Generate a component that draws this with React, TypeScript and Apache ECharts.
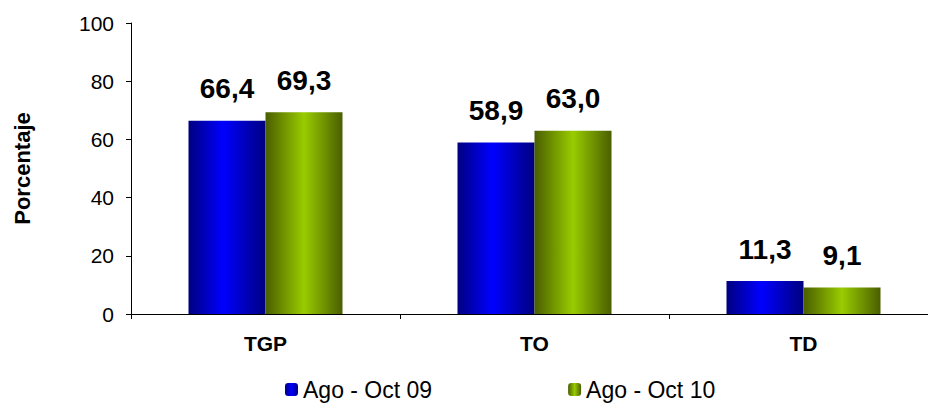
import React, { useEffect, useRef } from "react";
import * as echarts from "echarts";

const categories = ["TGP", "TO", "TD"];
const seriesNames = ["Ago - Oct 09", "Ago - Oct 10"];
const values09 = [66.4, 58.9, 11.3];
const values10 = [69.3, 63.0, 9.1];
const yTicks = { min: 0, max: 100, interval: 20 };

const font = "Arial, 'Liberation Sans', sans-serif";

function grad(edge: string, mid: string, pos: number) {
  return new echarts.graphic.LinearGradient(0, 0, 1, 0, [
    { offset: 0, color: edge },
    { offset: pos, color: mid },
    { offset: 1, color: edge },
  ]);
}

export default function App() {
  const ref = useRef<HTMLDivElement>(null);
  useEffect(() => {
    if (!ref.current) return;
    const chart = echarts.init(ref.current, undefined, { renderer: "svg" });
    const label = {
      show: true,
      position: "top" as const,
      distance: 18,
      fontFamily: font,
      fontWeight: "bold" as const,
      fontSize: 28,
      color: "#000",
      formatter: (p: any) => p.value.toFixed(1).replace(".", ","),
    };
    chart.setOption({
      animation: false,
      backgroundColor: "#fff",
      grid: { left: 131, right: 0, top: 23, bottom: 94 },
      legend: {
        bottom: 2,
        left: 280,
        itemWidth: 13,
        itemHeight: 13,
        itemGap: 136,
        textStyle: { fontFamily: font, fontSize: 23, color: "#000" },
        data: [
          { name: seriesNames[0], itemStyle: { color: grad("#000080", "#0000ff", 0.5) } },
          { name: seriesNames[1], itemStyle: { color: grad("#4a5e00", "#99cc00", 0.5) } },
        ],
      },
      xAxis: {
        type: "category",
        data: categories,
        axisLine: { lineStyle: { color: "#000", width: 1 } },
        axisTick: { show: true, length: 5, lineStyle: { color: "#000" } },
        axisLabel: {
          margin: 19,
          fontFamily: font,
          fontWeight: "bold",
          fontSize: 21,
          color: "#000",
        },
      },
      yAxis: {
        type: "value",
        min: yTicks.min,
        max: yTicks.max,
        interval: yTicks.interval,
        name: "Porcentaje",
        nameLocation: "middle",
        nameGap: 98,
        nameRotate: 90,
        nameTextStyle: { fontFamily: font, fontWeight: "bold", fontSize: 22, color: "#000" },
        splitLine: { show: false },
        axisLine: { show: true, lineStyle: { color: "#000", width: 1 } },
        axisTick: { show: true, length: 5, lineStyle: { color: "#000" } },
        axisLabel: { margin: 17, fontFamily: font, fontSize: 21, color: "#000" },
      },
      series: [
        {
          name: seriesNames[0],
          type: "bar",
          data: values09,
          barWidth: 77,
          barGap: "0%",
          itemStyle: { color: grad("#000080", "#0000ff", 0.45) },
          label,
        },
        {
          name: seriesNames[1],
          type: "bar",
          data: values10,
          barWidth: 77,
          barGap: "0%",
          itemStyle: { color: grad("#4a5e00", "#99cc00", 0.5) },
          label,
        },
      ],
    });
    return () => chart.dispose();
  }, []);
  return (
    <div
      style={{
        position: "absolute",
        left: 0,
        top: 0,
        width: 928,
        height: 408,
        overflow: "hidden",
      }}
    >
      <div ref={ref} style={{ width: 938, height: 408 }} />
    </div>
  );
}
